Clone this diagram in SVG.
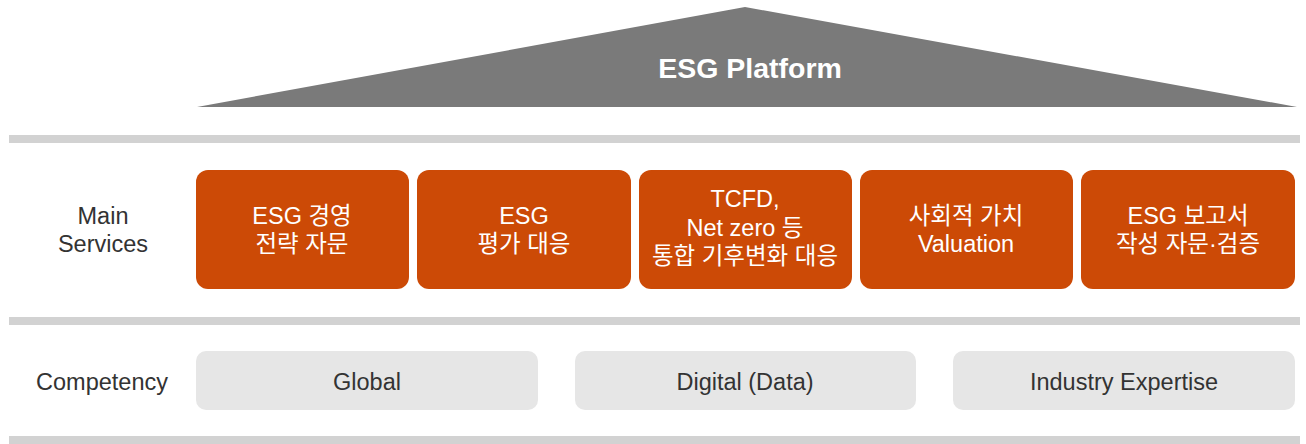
<svg xmlns="http://www.w3.org/2000/svg" width="1306" height="444" viewBox="0 0 1306 444">
<style>
.bar{fill:#d2d2d2}
.svc rect{fill:#cc4a06}
.svc text{fill:#ffffff;font-family:"Liberation Sans","Noto Sans CJK KR",sans-serif;font-size:23.5px;text-anchor:middle}
.cmp rect{fill:#e6e6e6}
.cmp text{fill:#333333;font-family:"Liberation Sans","Noto Sans CJK KR",sans-serif;font-size:23.5px;text-anchor:middle}
.lbl{fill:#333333;font-family:"Liberation Sans","Noto Sans CJK KR",sans-serif;font-size:23.5px;text-anchor:middle}
</style>
<rect width="1306" height="444" fill="#ffffff"/>
<g id="platform">
<polygon points="745,7 1297,107 197,107" fill="#7a7a7a"/>
<text x="750" y="77.5" fill="#ffffff" font-family="Liberation Sans, sans-serif" font-size="28.5" font-weight="bold" text-anchor="middle">ESG Platform</text>
</g>
<g id="bars">
<rect class="bar" x="9" y="135" width="1291" height="8"/>
<rect class="bar" x="9" y="317" width="1291" height="8"/>
<rect class="bar" x="9" y="436" width="1291" height="8"/>
</g>
<g id="label-main"><text class="lbl" x="103" y="223.5">Main</text><text class="lbl" x="103" y="251.5">Services</text></g>
<g id="label-comp"><text class="lbl" x="102" y="389.5">Competency</text></g>
<g id="svc1" class="svc"><rect x="196" y="170" width="213" height="119" rx="12"/><text x="302" y="223.5">ESG 경영</text><text x="302" y="251.5">전략 자문</text></g>
<g id="svc2" class="svc"><rect x="417" y="170" width="214" height="119" rx="12"/><text x="524" y="223.5">ESG</text><text x="524" y="251.5">평가 대응</text></g>
<g id="svc3" class="svc"><rect x="639" y="170" width="213" height="119" rx="12"/><text x="745" y="207">TCFD,</text><text x="745" y="235.5">Net zero 등</text><text x="745" y="264">통합 기후변화 대응</text></g>
<g id="svc4" class="svc"><rect x="860" y="170" width="213" height="119" rx="12"/><text x="966" y="223.5">사회적 가치</text><text x="966" y="251.5">Valuation</text></g>
<g id="svc5" class="svc"><rect x="1081" y="170" width="214" height="119" rx="12"/><text x="1188" y="223.5">ESG 보고서</text><text x="1188" y="251.5">작성 자문·검증</text></g>
<g id="cmp1" class="cmp"><rect x="196" y="351" width="342" height="59" rx="10"/><text x="367" y="389.5">Global</text></g>
<g id="cmp2" class="cmp"><rect x="575" y="351" width="341" height="59" rx="10"/><text x="745" y="389.5">Digital (Data)</text></g>
<g id="cmp3" class="cmp"><rect x="953" y="351" width="342" height="59" rx="10"/><text x="1124" y="389.5">Industry Expertise</text></g>
<g id="connectors"/>
</svg>
